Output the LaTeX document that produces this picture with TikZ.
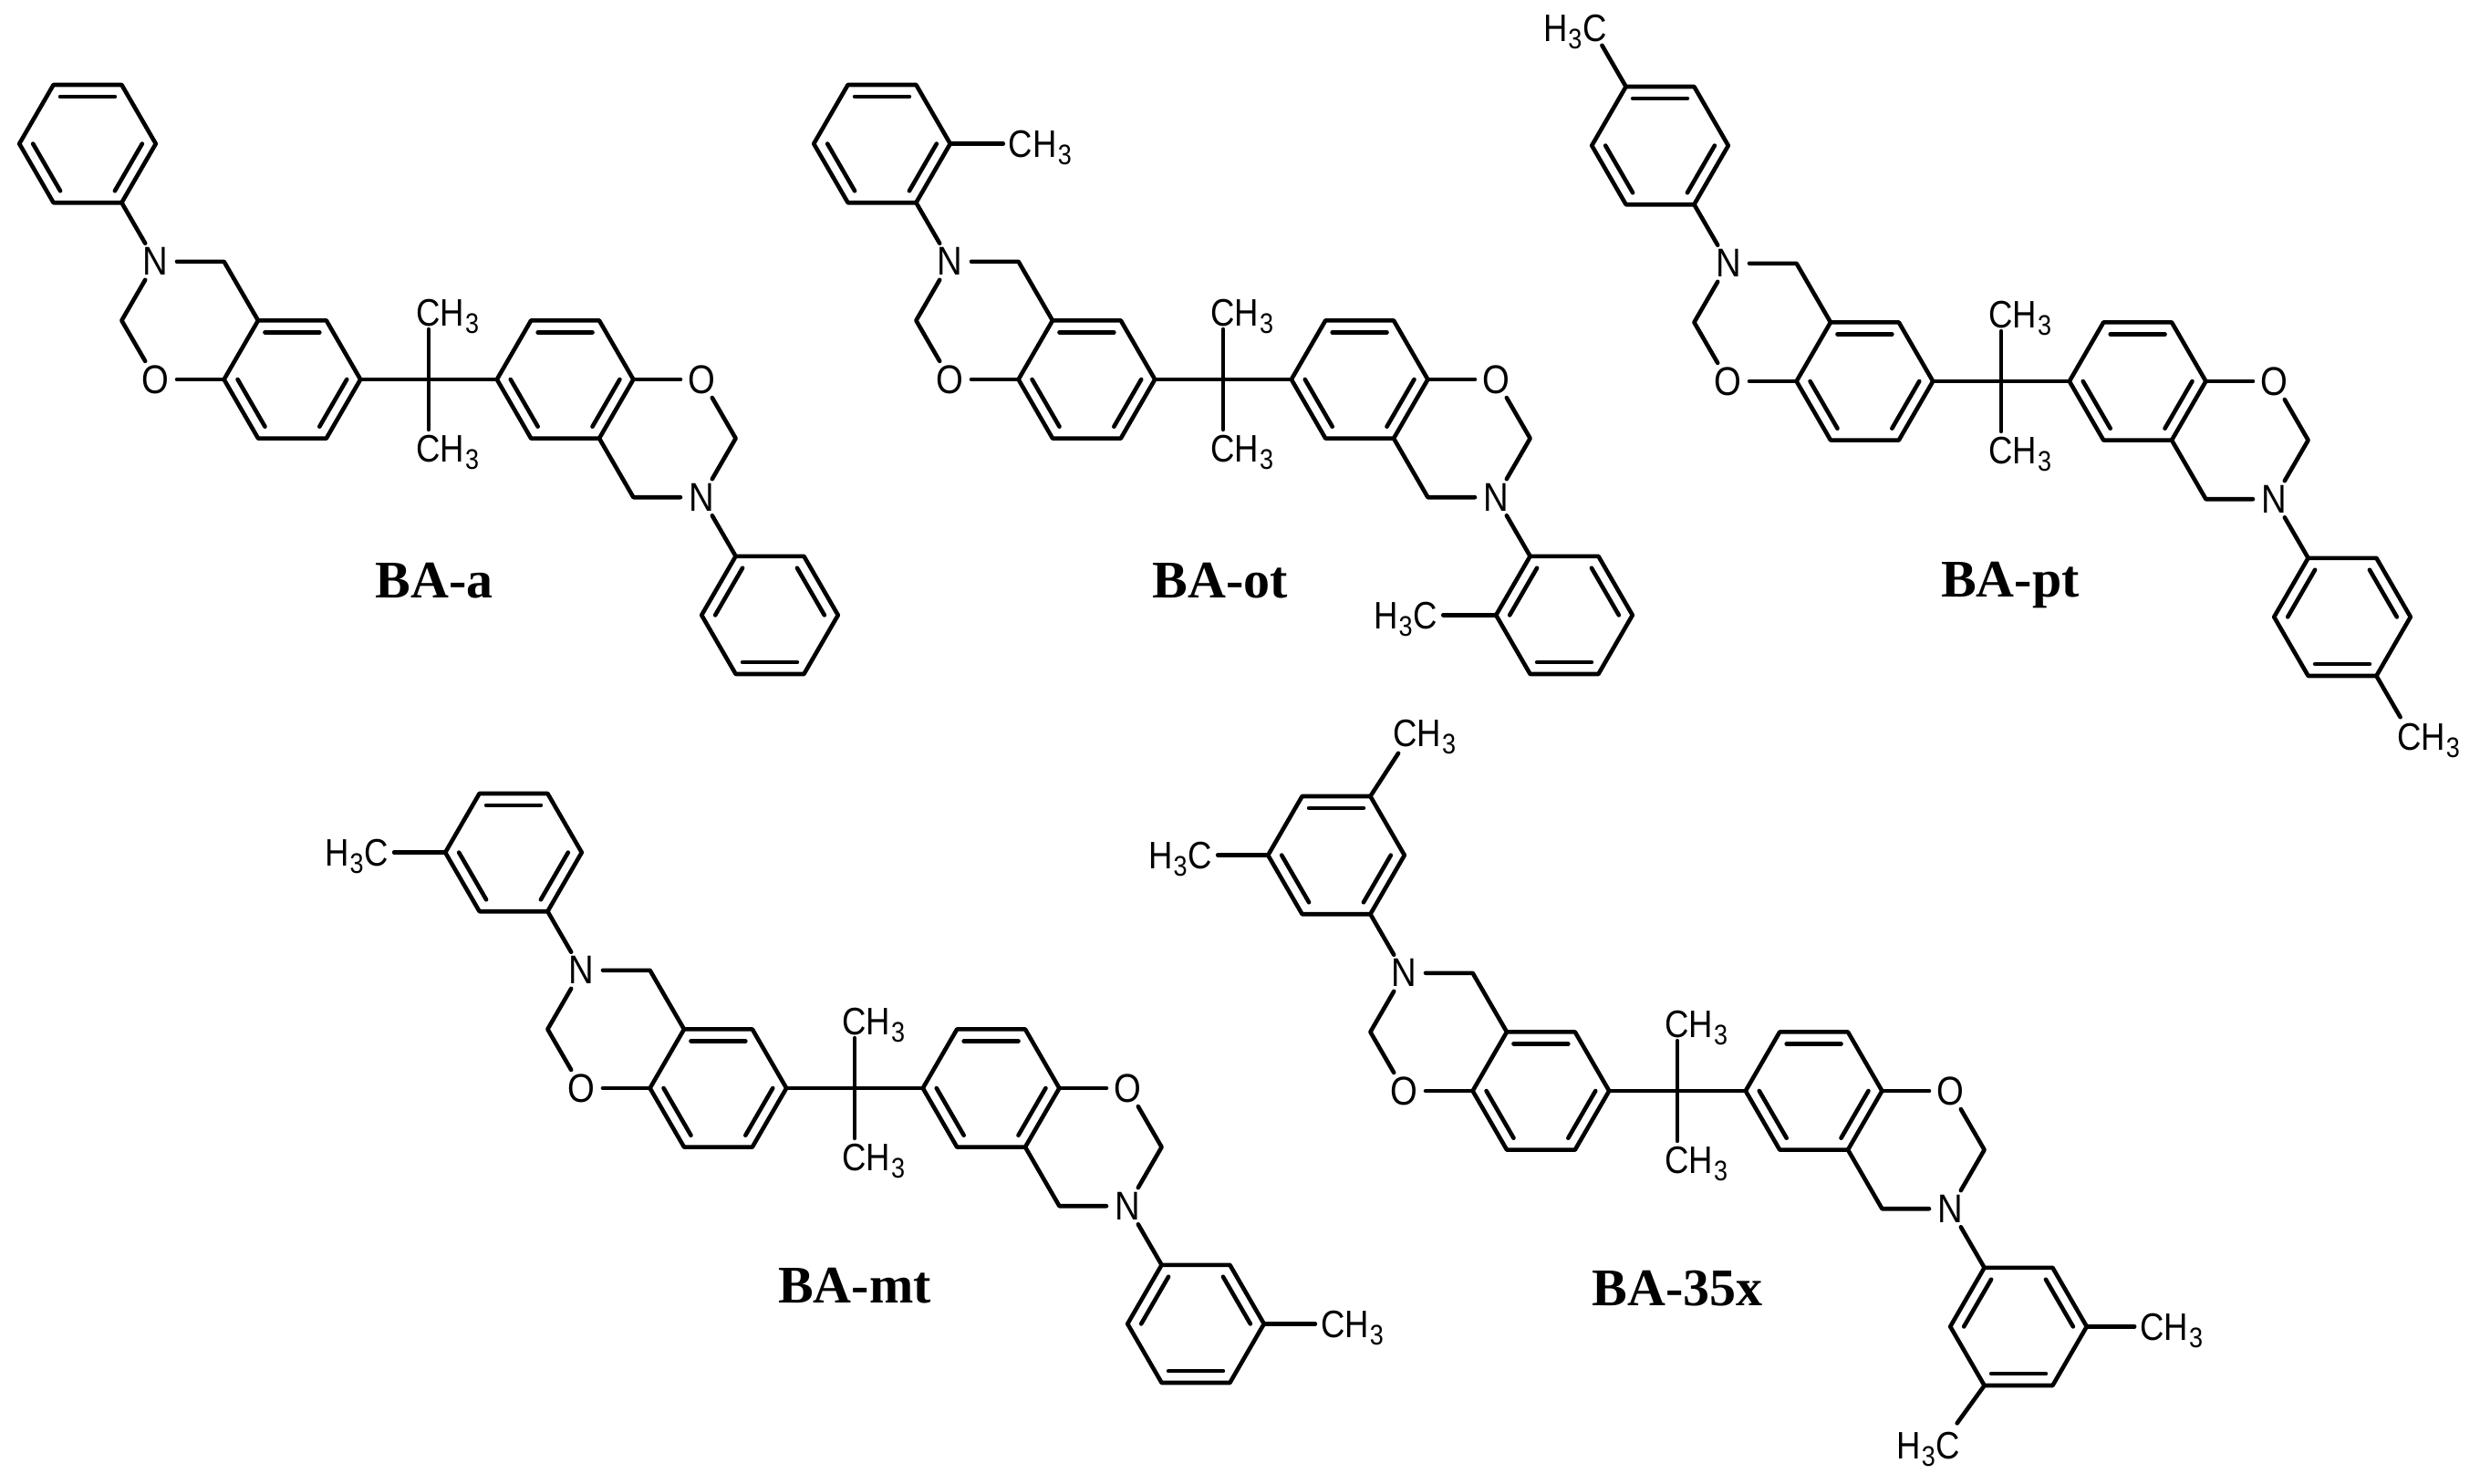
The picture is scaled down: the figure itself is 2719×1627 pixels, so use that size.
\documentclass[tikz,border=0pt]{standalone}
\usepackage{fontspec}
\setmainfont[FakeStretch=0.87]{Liberation Sans}
\newfontfamily\capfont{Liberation Serif}
\usetikzlibrary{calc}
\newcommand\atomsub[1]{\raisebox{-8pt}{\fontsize{31}{31}\selectfont #1}}
\newcommand\CHthree{CH\kern1pt\atomsub{3}}
\newcommand\HthreeC{H\kern1pt\atomsub{3}\kern1pt C}
\tikzset{
  bond/.style={line width=4.6pt,line cap=round,line join=round,black},
  het/.style={circle,inner sep=0pt,minimum size=46pt,font=\fontsize{44}{44}\selectfont},
  methyl/.style={inner sep=0pt,text height=30pt,text depth=0pt,font=\fontsize{42}{42}\selectfont},
  molname/.style={font=\capfont\bfseries\fontsize{58}{58}\selectfont,inner sep=0pt,anchor=base},
  lattice/.style={x=37.4pt,y=-64.6pt},
  flipped/.style={x=-37.4pt,y=64.6pt}
}
% #1 first end, #2 second end, #3 ring centre: the inner line of a double bond
\newcommand\dbl[3]{\draw[bond] ($(#3)!0.8!(#1)$) -- ($(#3)!0.8!(#2)$);}
% #1 name prefix, #2 lattice style: one benzoxazine half with its N-aryl ring
\newcommand\halfmol[2]{%
  \begin{scope}[#2]
    \foreach \n/\u/\v in {l1/-2/0,l2/-3/-1,l3/-5/-1,l4/-6/0,l5/-5/1,l6/-3/1,lc/-4/0,
                          lM/-9/-1,lH/-6/-2,
                          p1/-9/-3,p2/-8/-4,p3/-9/-5,p4/-11/-5,p5/-12/-4,p6/-11/-3,pc/-10/-4}
      {\coordinate (#1\n) at (\u,\v);}
    \node[het] (#1O) at (-8,0) {O};
    \node[het] (#1N) at (-8,-2) {N};
  \end{scope}
  \draw[bond] (#1l1)--(#1l2)--(#1l3)--(#1l4)--(#1l5)--(#1l6)--cycle;
  \draw[bond] (#1l4)--(#1O);
  \draw[bond] (#1O)--(#1lM)--(#1N);
  \draw[bond] (#1N)--(#1lH)--(#1l3);
  \draw[bond] (#1N)--(#1p1);
  \draw[bond] (#1p1)--(#1p2)--(#1p3)--(#1p4)--(#1p5)--(#1p6)--cycle;
  \dbl{#1p1}{#1p2}{#1pc}\dbl{#1p3}{#1p4}{#1pc}\dbl{#1p5}{#1p6}{#1pc}
}
% #1 prefix, #2 x, #3 y of the quaternary carbon, #4 substituents in lattice units
\newcommand\molecule[4]{%
  \begin{scope}[shift={(#2,#3)}]
    \coordinate (#1q) at (0,0);
    \halfmol{#1a}{lattice}
    \halfmol{#1b}{flipped}
    \dbl{#1al2}{#1al3}{#1alc}\dbl{#1al1}{#1al6}{#1alc}\dbl{#1al4}{#1al5}{#1alc}
    \dbl{#1bl5}{#1bl6}{#1blc}\dbl{#1bl3}{#1bl4}{#1blc}\dbl{#1bl1}{#1bl2}{#1blc}
    \begin{scope}[lattice]
      \coordinate (#1qu) at (0,-0.85);
      \coordinate (#1qd) at (0,0.85);
      \node[methyl,anchor=west] (#1mu) at (-0.37,-1.14) {\CHthree};
      \node[methyl,anchor=west] (#1md) at (-0.37,1.17) {\CHthree};
      \draw[bond] (#1al1)--(#1q)--(#1bl1);
      \draw[bond] (#1qu)--(#1qd);
      #4
    \end{scope}
  \end{scope}
}
\begin{document}
\begin{tikzpicture}[x=1pt,y=-1pt]
\useasboundingbox (0,0) rectangle (2719,1627);
\fill[white] (0,0) rectangle (2719,1627);

\molecule{A}{470}{416}{}
\node[molname] (nameA) at (476,655) {BA-a};

\molecule{B}{1341}{416}{
  \node[methyl,anchor=west,inner xsep=6pt] (Bm1) at (-6.45,-4) {\CHthree};
  \draw[bond] (Bap2)--(Bm1.west);
  \node[methyl,anchor=east,inner xsep=6pt] (Bm2) at (6.45,4) {\HthreeC};
  \draw[bond] (Bbp2)--(Bm2.east);
}
\node[molname] (nameB) at (1338,655) {BA-ot};

\molecule{C}{2194}{418}{
  \coordinate (Cm1e) at (-11.7,-5.7);
  \node[methyl,anchor=east] (Cm1) at (-11.55,-6) {\HthreeC};
  \draw[bond] (Cap4)--(Cm1e);
  \coordinate (Cm2e) at (11.7,5.7);
  \node[methyl,anchor=west] (Cm2) at (11.6,6.03) {\CHthree};
  \draw[bond] (Cbp4)--(Cm2e);
}
\node[molname] (nameC) at (2204,654) {BA-pt};

\molecule{D}{937}{1193}{
  \node[methyl,anchor=east,inner xsep=6pt] (Dm1) at (-13.5,-4) {\HthreeC};
  \draw[bond] (Dap5)--(Dm1.east);
  \node[methyl,anchor=west,inner xsep=6pt] (Dm2) at (13.5,4) {\CHthree};
  \draw[bond] (Dbp5)--(Dm2.west);
}
\node[molname] (nameD) at (937,1428) {BA-mt};

\molecule{E}{1839}{1196}{
  \node[methyl,anchor=east,inner xsep=6pt] (Em1) at (-13.47,-4) {\HthreeC};
  \draw[bond] (Eap5)--(Em1.east);
  \coordinate (Em2e) at (-8.18,-5.73);
  \node[methyl,anchor=west] (Em2) at (-8.34,-6.07) {\CHthree};
  \draw[bond] (Eap3)--(Em2e);
  \node[methyl,anchor=west,inner xsep=6pt] (Em3) at (13.4,4) {\CHthree};
  \draw[bond] (Ebp5)--(Em3.west);
  \coordinate (Em4e) at (8.2,5.64);
  \node[methyl,anchor=east] (Em4) at (8.3,6.02) {\HthreeC};
  \draw[bond] (Ebp3)--(Em4e);
}
\node[molname] (nameE) at (1839,1431) {BA-35x};
\end{tikzpicture}
\end{document}
